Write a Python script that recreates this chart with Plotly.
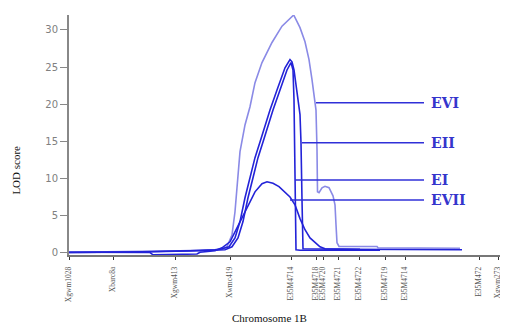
import plotly.graph_objects as go

# Marker positions along chromosome 1B (relative units) and their names
marker_pos = [0, 44, 106, 161, 222, 247, 254, 269, 290, 316, 336, 410, 429]
marker_names = ["Xgwm1028", "Xbarc8a", "Xgwm413", "Xwmc419", "E35M4714", "E35M4718",
                "E35M4720", "E35M4721", "E35M4722", "E35M4719", "E35M4714", "E35M472", "Xgwm273"]

# LOD profiles (position, LOD)
evi_x = [0, 61, 111, 146, 153, 158, 163, 166, 168, 171, 176, 181, 186, 193, 203, 213, 224.7,
         231, 236, 240, 243, 245, 247, 248, 248.5, 250, 253, 256, 260, 264, 266, 267, 268,
         270, 308, 309, 358, 391]
evi_y = [0.07, 0.13, 0.27, 0.4, 0.47, 0.81, 2.42, 5.52, 9.15, 13.6, 17.2, 19.65, 22.9, 25.6,
         28.3, 30.5, 32.0, 30.3, 28.4, 26.0, 23.3, 21.3, 19.2, 13.9, 8.2, 8.1, 8.75, 8.95,
         8.75, 7.67, 6.46, 3.77, 1.35, 0.85, 0.85, 0.67, 0.67, 0.6]

eii_x = [0, 61, 121, 146, 153, 160, 166, 171, 176, 181, 186, 191, 196, 201, 208, 216, 221,
         223, 225, 227, 229, 231, 232, 233, 234, 271, 393]
eii_y = [0.03, 0.1, 0.27, 0.4, 0.54, 0.81, 2.0, 4.2, 7.4, 10.1, 12.8, 14.9, 17.1, 19.2, 21.9,
         24.9, 26.0, 25.7, 24.6, 22.9, 20.6, 18.6, 14.8, 7.1, 0.54, 0.47, 0.4]

ei_x = [0, 71, 131, 156, 163, 169, 174, 179, 184, 189, 194, 199, 204, 211, 218, 222, 224,
        225, 226, 227, 231, 311]
ei_y = [0.03, 0.1, 0.27, 0.4, 0.81, 2.0, 4.2, 7.4, 10.1, 12.8, 14.9, 17.1, 19.2, 21.9, 24.6,
        25.6, 24.6, 20.6, 9.8, 0.4, 0.34, 0.34]

evii_x = [0, 81, 84, 106, 107, 128, 131, 146, 153, 161, 168, 176, 186, 193, 198, 204, 210,
          221, 226, 231, 236, 241, 246, 251, 256, 291]
evii_y = [0.07, 0.03, -0.27, -0.27, -0.17, -0.17, 0.07, 0.27, 0.67, 1.48, 3.36, 5.5, 8.2,
          9.3, 9.55, 9.35, 8.9, 7.5, 6.46, 4.6, 3.1, 2.0, 1.35, 0.81, 0.54, 0.47]

# Trait labels with leader lines
label_names = ["EVI", "EII", "EI", "EVII"]
label_y = [20.2, 14.8, 9.8, 7.1]
leader_start = [247, 233, 226, 221]
leader_end = 355
label_x = 360

light = "#8a8ae6"
dark = "#2323d8"

fig = go.Figure()
fig.add_trace(go.Scatter(x=evi_x, y=evi_y, mode="lines", line=dict(color=light, width=1.6)))
fig.add_trace(go.Scatter(x=eii_x, y=eii_y, mode="lines", line=dict(color=dark, width=1.6)))
fig.add_trace(go.Scatter(x=ei_x, y=ei_y, mode="lines", line=dict(color=dark, width=1.6)))
fig.add_trace(go.Scatter(x=evii_x, y=evii_y, mode="lines", line=dict(color=dark, width=1.6)))

for name, ly, xs in zip(label_names, label_y, leader_start):
    fig.add_trace(go.Scatter(x=[xs, leader_end], y=[ly, ly], mode="lines",
                             line=dict(color="#3030d8", width=1.5)))
    fig.add_annotation(x=label_x, y=ly, text=name, showarrow=False, xanchor="left",
                       yanchor="middle",
                       font=dict(family="DejaVu Serif", size=14, color="#3535cc", weight="bold"))

fig.add_annotation(x=-0.124, y=0.354, xref="paper", yref="paper", text="LOD score",
                   textangle=-90, showarrow=False, xanchor="center", yanchor="middle",
                   font=dict(family="Liberation Serif", size=11, color="#111"))
fig.add_annotation(x=0.466, y=-0.262, xref="paper", yref="paper", text="Chromosome 1B",
                   showarrow=False, xanchor="center", yanchor="middle",
                   font=dict(family="Liberation Serif", size=11, color="#111"))

# page body adds an 8px offset, so the figure is 8px smaller than the window
fig.update_layout(
    width=500, height=318,
    margin=dict(l=61, r=8, t=7, b=71),
    paper_bgcolor="white", plot_bgcolor="white",
    showlegend=False,
    xaxis=dict(range=[0, 431], tickmode="array", tickvals=marker_pos, ticktext=marker_names,
               tickangle=-90, showgrid=False, zeroline=False, showline=True,
               linecolor="#777", linewidth=1.5, ticks="outside", ticklen=3,
               ticklabelstandoff=4,
               tickcolor="#333", tickfont=dict(family="Liberation Serif", size=7.5, color="#555")),
    yaxis=dict(range=[-0.3, 32], tickvals=[0, 5, 10, 15, 20, 25, 30], showgrid=False,
               zeroline=False, showline=True, linecolor="#888", linewidth=2,
               ticks="outside", ticklen=7, tickcolor="#888",
               tickfont=dict(family="DejaVu Sans", size=10, color="#808080")),
)

fig.write_html("out.html")
